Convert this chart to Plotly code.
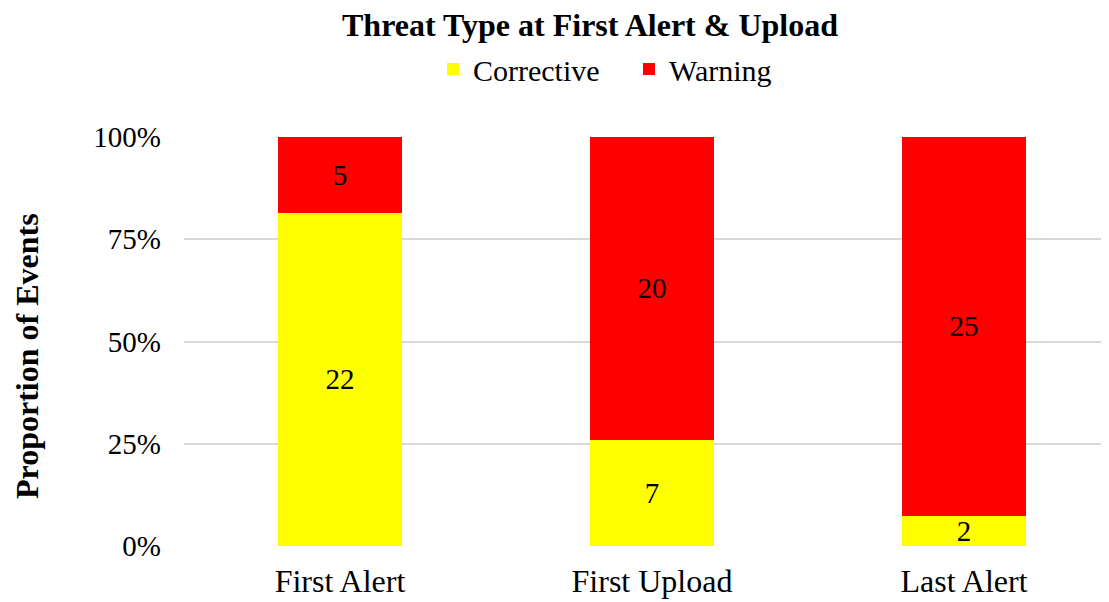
import plotly.graph_objects as go

categories = ["First Alert", "First Upload", "Last Alert"]
corrective = [22, 7, 2]
warning = [5, 20, 25]
y_ticks = [0, 0.25, 0.5, 0.75, 1.0]
y_tick_labels = ["0%", "25%", "50%", "75%", "100%"]

FONT = "Liberation Serif"

fig = go.Figure()
fig.add_trace(go.Bar(
    name="Corrective", x=categories, y=corrective,
    marker=dict(color="#FFFF00", line=dict(width=0)),
    text=[str(v) for v in corrective], textposition="inside",
    insidetextanchor="middle", constraintext="none", textangle=0,
    textfont=dict(family=FONT, size=29, color="black"),
))
fig.add_trace(go.Bar(
    name="Warning", x=categories, y=warning,
    marker=dict(color="#FF0000", line=dict(width=0)),
    text=[str(v) for v in warning], textposition="inside",
    insidetextanchor="middle", constraintext="none", textangle=0,
    textfont=dict(family=FONT, size=29, color="black"),
))

# page has an 8px body margin; figure coordinates are screen - 8
W, H = 1101, 594
L, R, T, B = 176, 1, 129, 56
pw = W - L - R
ph = H - T - B

def px_x(x):
    return (x - L) / pw

def px_y(y):
    return (H - B - y) / ph

fig.update_layout(
    width=W, height=H,
    barmode="stack", barnorm="fraction", bargap=0.6,
    margin=dict(l=L, r=R, t=T, b=B, pad=0),
    paper_bgcolor="white", plot_bgcolor="white",
    font=dict(family=FONT, color="black", size=29),
    title=dict(
        text="<b>Threat Type at First Alert & Upload</b>",
        x=px_x(582), xref="paper", xanchor="center",
        y=1 - 17 / H, yref="container", yanchor="middle",
        font=dict(family=FONT, size=32, color="black"),
    ),
    legend=dict(
        orientation="h", x=px_x(425), xref="paper", xanchor="left",
        y=1 - 61 / H, yref="container", yanchor="middle",
        font=dict(family=FONT, size=30, color="black"),
        bgcolor="rgba(0,0,0,0)", traceorder="normal",
        entrywidth=151, entrywidthmode="pixels",
    ),
    xaxis=dict(
        range=[-0.5, -0.5 + pw / 312.0],
        showgrid=False, zeroline=False, showline=False,
        tickfont=dict(family=FONT, size=32, color="black"),
        ticks="", ticklabelstandoff=13,
    ),
    yaxis=dict(
        range=[0, 1], tickvals=y_ticks, ticktext=y_tick_labels,
        showgrid=True, gridcolor="#D9D9D9", gridwidth=1.5,
        zeroline=False, showline=False,
        tickfont=dict(family=FONT, size=29, color="black"),
        ticks="", ticklabelstandoff=22,
    ),
    showlegend=True,
)

fig.add_annotation(
    text="<b>Proportion of Events</b>", textangle=-90,
    x=px_x(19), xref="paper", xanchor="center",
    y=px_y(348), yref="paper", yanchor="middle",
    showarrow=False, font=dict(family=FONT, size=32, color="black"),
)

fig.write_html("out.html")
